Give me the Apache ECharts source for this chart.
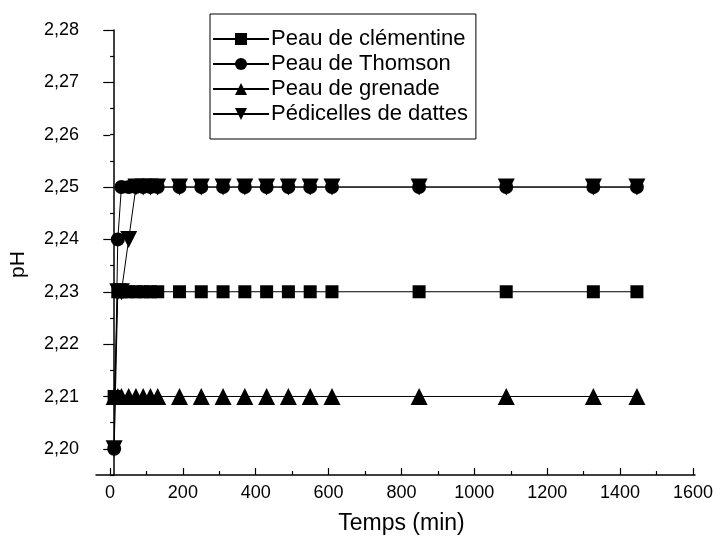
<!DOCTYPE html>
<html>
<head>
<meta charset="utf-8">
<script src="https://cdn.jsdelivr.net/npm/echarts@6/dist/echarts.min.js"></script>
<style>
  html, body { margin: 0; padding: 0; background: #fff; }
  #chart { width: 716px; height: 545px; }
</style>
</head>
<body>
<div id="chart"></div>
<script>
// temps (min)
var temps = [0, 10, 20, 40, 60, 80, 100, 120, 180, 240, 300, 360, 420, 480, 540, 600, 840, 1080, 1320, 1440]
var clementine = [2.21, 2.23, 2.23, 2.23, 2.23, 2.23, 2.23, 2.23, 2.23, 2.23, 2.23, 2.23, 2.23, 2.23, 2.23, 2.23, 2.23, 2.23, 2.23, 2.23]
var thomson = [2.20, 2.24, 2.25, 2.25, 2.25, 2.25, 2.25, 2.25, 2.25, 2.25, 2.25, 2.25, 2.25, 2.25, 2.25, 2.25, 2.25, 2.25, 2.25, 2.25]
var grenade = [2.21, 2.21, 2.21, 2.21, 2.21, 2.21, 2.21, 2.21, 2.21, 2.21, 2.21, 2.21, 2.21, 2.21, 2.21, 2.21, 2.21, 2.21, 2.21, 2.21]
var pedicelles = [2.20, 2.23, 2.23, 2.24, 2.25, 2.25, 2.25, 2.25, 2.25, 2.25, 2.25, 2.25, 2.25, 2.25, 2.25, 2.25, 2.25, 2.25, 2.25, 2.25]
var xTicks = [0, 1600, 200]
var yTicks = [2.20, 2.28, 0.01]

var font = 'Liberation Sans, Arial, sans-serif'
var myChart = echarts.init(document.getElementById('chart'))

function pairs (vals) {
  return temps.map(function (t, i) { return [t, vals[i]] })
}

function serie (name, vals, symbol, size, rotate) {
  return {
    name: name,
    type: 'line',
    data: pairs(vals),
    symbol: symbol,
    symbolSize: size,
    symbolRotate: rotate || 0,
    showSymbol: true,
    clip: false,
    itemStyle: { color: '#000' },
    lineStyle: { color: '#000', width: 1 },
    emphasis: { disabled: true }
  }
}

myChart.setOption({
  backgroundColor: '#fff',
  animation: false,
  textStyle: { fontFamily: font },
  grid: [
    // data grid: x -50..1600, y 2.195..2.28
    { left: 92, right: 21, top: 30, bottom: 70 },
    // x ticks grid (starts at 0)
    { left: 110, right: 21, top: 30, bottom: 70 },
    // y ticks grid (starts at 2.20)
    { left: 92, right: 21, top: 30, bottom: 96 }
  ],
  legend: {
    orient: 'vertical',
    left: 210,
    top: 14,
    itemWidth: 56,
    itemHeight: 15,
    itemGap: 3,
    padding: [14, 8, 14, 2],
    borderColor: '#000',
    borderWidth: 1,
    textStyle: { fontSize: 22, lineHeight: 22, color: '#000', fontFamily: font, padding: [0, 0, 0, -3] },
    data: ['Peau de clémentine', 'Peau de Thomson', 'Peau de grenade', 'Pédicelles de dattes']
  },
  xAxis: [
    {
      gridIndex: 0, type: 'value', min: -50, max: 1600,
      axisLine: { show: true, lineStyle: { color: '#000', width: 1.5 } },
      axisTick: { show: false }, axisLabel: { show: false }, splitLine: { show: false }
    },
    {
      gridIndex: 1, type: 'value', min: xTicks[0], max: xTicks[1], interval: xTicks[2],
      name: 'Temps (min)', nameLocation: 'middle', nameGap: 37,
      nameTextStyle: { fontSize: 23, color: '#000', fontFamily: font },
      axisLine: { show: false },
      axisTick: { show: true, inside: true, length: 7, lineStyle: { color: '#000', width: 1.2 } },
      minorTick: { show: true, splitNumber: 2, length: 4, lineStyle: { color: '#000', width: 1.2 } },
      axisLabel: {
        fontSize: 18, color: '#000', margin: 9, fontFamily: font,
        formatter: function (v) { return String(v) }
      },
      splitLine: { show: false }
    },
    {
      gridIndex: 2, type: 'value', min: -50, max: 1600, show: false
    }
  ],
  yAxis: [
    {
      gridIndex: 0, type: 'value', min: 2.195, max: 2.28, interval: 0.005,
      name: 'pH', nameLocation: 'middle', nameGap: 67,
      nameTextStyle: { fontSize: 21, color: '#000', fontFamily: font, padding: [0, 0, 0, -24] },
      axisLine: { show: true, lineStyle: { color: '#000', width: 1.5 } },
      axisTick: { show: true, length: 4, lineStyle: { color: '#000', width: 1.2 } },
      axisLabel: { show: false }, splitLine: { show: false }
    },
    {
      gridIndex: 1, type: 'value', min: 2.195, max: 2.28, show: false
    },
    {
      gridIndex: 2, type: 'value', min: yTicks[0], max: yTicks[1], interval: yTicks[2],
      axisLine: { show: false },
      axisTick: { show: true, length: 7, lineStyle: { color: '#000', width: 1.2 } },
      axisLabel: {
        fontSize: 18, color: '#000', margin: 13, fontFamily: font,
        formatter: function (v) { return v.toFixed(2).replace('.', ',') }
      },
      splitLine: { show: false }
    }
  ],
  series: [
    serie('Peau de clémentine', clementine, 'rect', 13),
    serie('Peau de Thomson', thomson, 'circle', 14),
    serie('Peau de grenade', grenade, 'triangle', 17),
    serie('Pédicelles de dattes', pedicelles, 'triangle', 17, 180)
  ]
})
</script>
</body>
</html>
